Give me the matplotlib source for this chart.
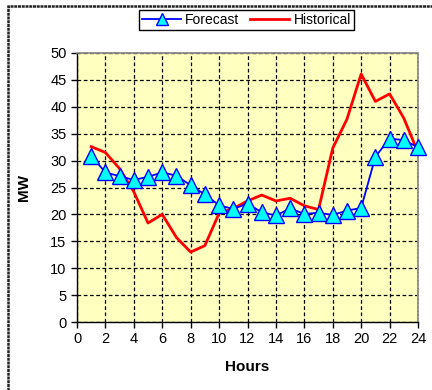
import matplotlib
matplotlib.use("Agg")
import matplotlib.pyplot as plt
from matplotlib.patches import Rectangle

plt.rcParams['font.family'] = ['Liberation Sans', 'DejaVu Sans']

hours = list(range(1, 25))
forecast = [30.9, 27.8, 27.1, 26.4, 27.0, 27.8, 27.2, 25.4, 23.7, 21.7, 21.0, 22.0,
            20.4, 19.8, 21.1, 20.1, 20.3, 19.9, 20.7, 21.2, 30.7, 34.1, 33.8, 32.5]
historical = [32.6, 31.5, 28.5, 24.2, 18.4, 20.0, 15.7, 13.0, 14.2, 20.2, 21.1, 22.5,
              23.6, 22.5, 23.0, 21.6, 20.9, 32.3, 37.7, 46.1, 41.0, 42.4, 37.9, 31.5]
x_ticks = list(range(0, 25, 2))
y_ticks = list(range(0, 51, 5))

W, H = 432, 390
fig = plt.figure(figsize=(W / 100, H / 100), dpi=100)
ax = fig.add_axes([77 / W, 1 - 322 / H, (418 - 77) / W, (322 - 53) / H])
ax.set_facecolor('#FFFFC0')

# outer chart frame
fig.patches.append(Rectangle((8 / W, -0.05), 1.2, 1 - 6 / H + 0.05,
                             transform=fig.transFigure, fill=False,
                             edgecolor='#222222', linewidth=1.8,
                             linestyle=(0, (1.2, 0.3))))

ax.plot(hours, historical, color='#FF0000', linewidth=2, label='Historical', zorder=3)
ax.plot(hours, forecast, color='#0000FF', linewidth=1.3, marker='^', markersize=12,
        markerfacecolor='#00FFFF', markeredgecolor='#0000FF', markeredgewidth=1,
        label='Forecast', zorder=4, clip_on=False)

ax.set_xlim(0, 24)
ax.set_ylim(0, 50)
ax.set_xticks(x_ticks)
ax.set_yticks(y_ticks)
ax.grid(True, color='black', linestyle=(0, (3, 2)), linewidth=0.9)
ax.set_axisbelow(True)
ax.tick_params(direction='out', length=4, width=1, labelsize=10.5, colors='black')

for side in ('top', 'right'):
    ax.spines[side].set_color('#888888')
    ax.spines[side].set_linestyle((0, (1.5, 0.8)))
    ax.spines[side].set_linewidth(1.2)
for side in ('left', 'bottom'):
    ax.spines[side].set_color('black')
    ax.spines[side].set_linewidth(1)

ax.set_xlabel('Hours', fontsize=11, fontweight='bold', labelpad=10)
ax.set_ylabel('MW', fontsize=11, fontweight='bold', labelpad=14)

handles, labels = ax.get_legend_handles_labels()
order = [1, 0]
leg = fig.legend([handles[i] for i in order], [labels[i] for i in order],
                 loc='center', bbox_to_anchor=(246.5 / W, 1 - 20 / H), ncol=2,
                 fontsize=10, frameon=True, fancybox=False, framealpha=1,
                 edgecolor='black', handlelength=2.8, handletextpad=0.3,
                 columnspacing=0.8, borderpad=0.25, markerscale=0.7)
leg.get_frame().set_linewidth(1)

fig.savefig('out.png', dpi=100)
